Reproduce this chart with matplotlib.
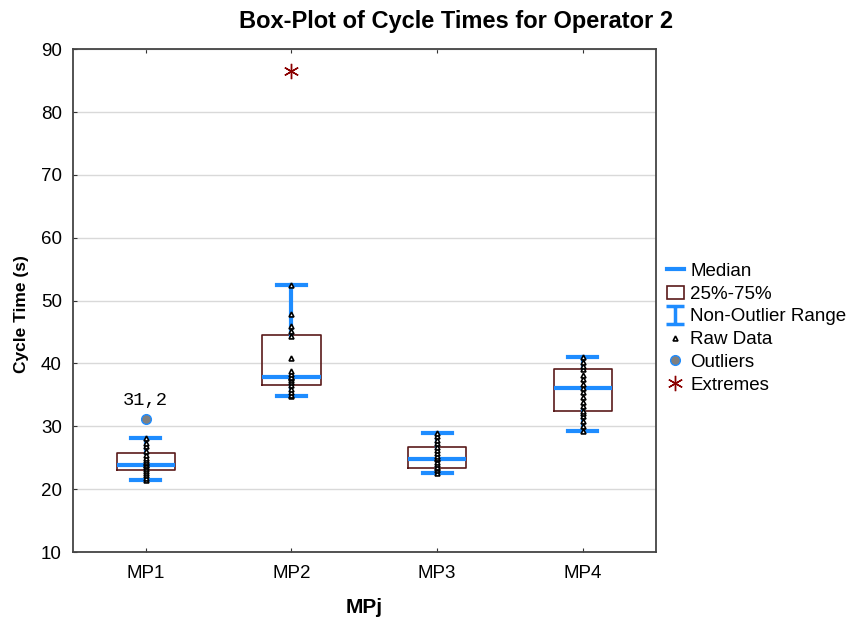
import matplotlib
matplotlib.use('Agg')
from matplotlib import pyplot as plt
from matplotlib.lines import Line2D
from matplotlib.patches import Rectangle
from matplotlib.path import Path

plt.rcParams['font.family'] = ['Liberation Sans', 'DejaVu Sans']

# data
groups = ['MP1', 'MP2', 'MP3', 'MP4']
medians = [23.8, 37.9, 24.8, 36.1]
q1 = [23.0, 36.6, 23.3, 32.5]
q3 = [25.7, 44.6, 26.7, 39.1]
whis_lo = [21.4, 34.8, 22.6, 29.2]
whis_hi = [28.1, 52.5, 29.0, 41.0]

raw_mp1 = [21.4, 21.8, 22.3, 22.6, 22.9, 23.2, 23.5, 23.8, 23.8, 24.1, 24.3, 24.6, 25.0, 25.5, 26.0, 26.8, 27.4, 28.1]
raw_mp2 = [34.8, 35.0, 35.4, 36.0, 36.6, 37.0, 37.4, 37.7, 37.9, 37.9, 38.3, 38.8, 40.8, 44.3, 45.2, 46.0, 47.9, 52.5]
raw_mp3 = [22.6, 23.0, 23.3, 23.6, 24.0, 24.4, 24.8, 24.9, 25.3, 25.8, 26.2, 26.7, 27.3, 27.9, 28.4, 29.0]
raw_mp4 = [29.2, 30.0, 30.8, 31.6, 32.2, 32.5, 33.2, 33.8, 34.6, 35.4, 36.1, 36.8, 37.5, 38.2, 39.1, 39.6, 40.3, 41.0]
raw_data = [raw_mp1, raw_mp2, raw_mp3, raw_mp4]

outlier_x = [1]
outlier_y = [31.2]
outlier_labels = ['31,2']
extreme_x = [2]
extreme_y = [86.5]

blue = '#1E8CFF'
box_red = '#5A1A1A'
ext_red = '#8B0000'

fig = plt.figure(figsize=(8.51, 6.21), dpi=100)
ax = fig.add_axes([0.0858, 0.111, 0.6846, 0.8098])

stats = []
for i in range(len(groups)):
    stats.append({'med': medians[i], 'q1': q1[i], 'q3': q3[i],
                  'whislo': whis_lo[i], 'whishi': whis_hi[i], 'fliers': []})

ax.bxp(stats, positions=range(1, 5), widths=0.4, showfliers=False,
       boxprops=dict(color=box_red, linewidth=1.2),
       medianprops=dict(color=blue, linewidth=3),
       whiskerprops=dict(color=blue, linewidth=3),
       capprops=dict(color=blue, linewidth=3),
       capwidths=0.2, zorder=3)

for i, vals in enumerate(raw_data):
    ax.plot([i + 1] * len(vals), vals, linestyle='none', marker='^',
            markersize=3.5, markerfacecolor='white', markeredgecolor='black',
            markeredgewidth=1.2, zorder=4)

ax.plot(outlier_x, outlier_y, linestyle='none', marker='o', markersize=7,
        markerfacecolor='#7F7F7F', markeredgecolor=blue, markeredgewidth=1, zorder=5)
for x, y, t in zip(outlier_x, outlier_y, outlier_labels):
    ax.text(x, y + 1.5, t, ha='center', va='bottom', fontsize=13.5,
            family=['Liberation Mono', 'DejaVu Sans Mono'])
ax.plot(extreme_x, extreme_y, linestyle='none', marker=(6, 2, 0), markersize=11,
        markeredgecolor=ext_red, markeredgewidth=1.0, zorder=5)

ax.set_xlim(0.5, 4.5)
ax.set_ylim(10, 90)
ax.set_yticks(range(10, 91, 10))
ax.set_xticks(range(1, 5))
ax.set_xticklabels(groups)
ax.yaxis.grid(True, color='#D9D9D9', linewidth=1)
ax.set_axisbelow(True)
ax.tick_params(axis='x', direction='in', length=3, top=True, labelsize=13.5, pad=9, color='#333333')
ax.tick_params(axis='y', direction='in', length=3, labelsize=13.5, pad=8, color='#333333')
for s in ax.spines.values():
    s.set_color('#444444')
    s.set_linewidth(1.3)

fig.text(0.536, 0.965, 'Box-Plot of Cycle Times for Operator 2', fontsize=17,
         fontweight='bold', ha='center', va='center')
ax.set_ylabel('Cycle Time (s)', fontsize=12.5, fontweight='bold')
ax.yaxis.set_label_coords(-0.076, 0.473)
ax.set_xlabel('MPj', fontsize=15, fontweight='bold', labelpad=12)

# legend handles
i_path = Path([(-1, 1), (1, 1), (0, 1), (0, -1), (-1, -1), (1, -1)],
              [Path.MOVETO, Path.LINETO, Path.MOVETO, Path.LINETO, Path.MOVETO, Path.LINETO])
handles = [
    Line2D([], [], color=blue, linewidth=3),
    Rectangle((0, 0), 1, 1, facecolor='white', edgecolor=box_red, linewidth=1.2),
    Line2D([], [], linestyle='none', marker=i_path, markersize=13,
           markeredgecolor=blue, markerfacecolor='none', markeredgewidth=2.5),
    Line2D([], [], linestyle='none', marker='^', markersize=3.5,
           markerfacecolor='white', markeredgecolor='black', markeredgewidth=1.2),
    Line2D([], [], linestyle='none', marker='o', markersize=7,
           markerfacecolor='#7F7F7F', markeredgecolor=blue),
    Line2D([], [], linestyle='none', marker=(6, 2, 0), markersize=11,
           markeredgecolor=ext_red, markeredgewidth=1.0),
]
labels = ['Median', '25%-75%', 'Non-Outlier Range', 'Raw Data', 'Outliers', 'Extremes']
ax.legend(handles, labels, loc='center left', bbox_to_anchor=(1.0, 0.445),
          frameon=False, fontsize=13.5, handlelength=0.9, handletextpad=0.35,
          labelspacing=0.3, borderaxespad=0.2)

plt.savefig('out.png', dpi=100)
plt.close()
